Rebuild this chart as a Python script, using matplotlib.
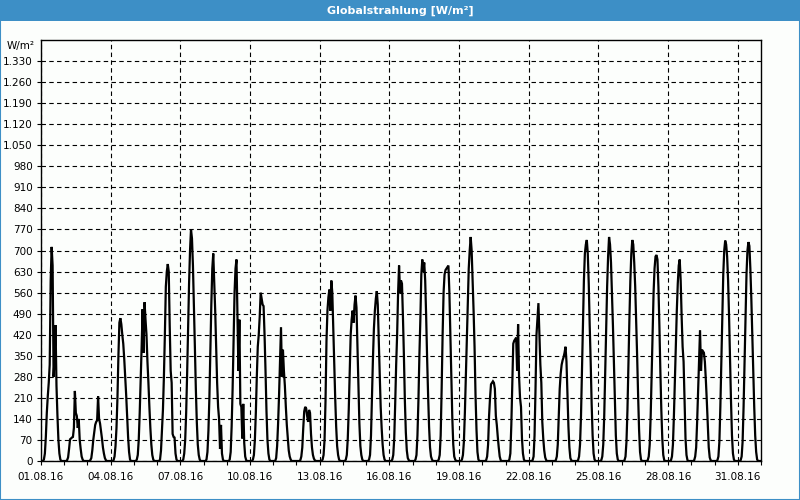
import numpy as np
import matplotlib
matplotlib.use("Agg")
import matplotlib.pyplot as plt
from matplotlib.patches import Rectangle

# hourly global radiation [W/m2], hours 03..20 UTC of each day (0 outside)
hours = list(range(3, 21))

d01 = [5, 25, 80, 160, 215, 260, 320, 600, 712, 650, 280, 340, 452, 250, 150, 70, 25, 5]
d02 = [3, 12, 40, 72, 75, 78, 80, 110, 233, 160, 150, 110, 140, 70, 40, 15, 5, 0]
d03 = [3, 10, 35, 70, 95, 120, 130, 135, 215, 140, 125, 100, 75, 45, 25, 10, 3, 0]
d04 = [3, 15, 50, 110, 210, 350, 460, 475, 455, 420, 390, 340, 280, 220, 150, 80, 30, 5]
d05 = [5, 20, 70, 160, 270, 380, 505, 360, 528, 470, 420, 330, 260, 180, 110, 55, 20, 5]
d06 = [5, 35, 100, 170, 280, 420, 580, 630, 655, 630, 450, 300, 260, 90, 80, 78, 25, 5]
d07 = [5, 25, 70, 160, 290, 440, 590, 700, 770, 740, 650, 520, 380, 240, 130, 55, 20, 5]
d08 = [5, 30, 100, 210, 360, 520, 640, 690, 600, 500, 380, 260, 180, 140, 40, 120, 25, 5]
d09 = [5, 30, 115, 240, 400, 560, 640, 670, 480, 300, 470, 190, 180, 75, 190, 60, 15, 3]
d10 = [5, 20, 70, 160, 280, 380, 420, 480, 560, 540, 520, 515, 420, 300, 165, 70, 25, 5]
d11 = [10, 50, 125, 220, 330, 445, 280, 370, 300, 250, 180, 120, 75, 35, 15, 5, 0, 0]
d12 = [0, 3, 15, 45, 110, 165, 180, 175, 150, 130, 170, 160, 90, 45, 20, 8, 2, 0]
d13 = [5, 20, 70, 200, 400, 500, 545, 570, 500, 600, 560, 440, 330, 210, 115, 50, 20, 5]
d14 = [5, 20, 75, 170, 300, 420, 470, 500, 460, 520, 550, 510, 380, 250, 125, 50, 20, 5]
d15 = [5, 20, 85, 220, 340, 440, 500, 540, 565, 520, 400, 290, 180, 110, 55, 20, 5, 0]
d16 = [5, 20, 75, 190, 320, 420, 560, 650, 560, 600, 590, 480, 350, 200, 95, 35, 10, 3]
d17 = [5, 20, 85, 200, 350, 470, 620, 670, 630, 660, 600, 480, 340, 220, 115, 45, 15, 5]
d18 = [5, 20, 85, 240, 420, 560, 620, 635, 640, 645, 650, 560, 420, 280, 145, 55, 15, 5]
d19 = [5, 20, 65, 160, 280, 400, 510, 640, 700, 745, 700, 600, 500, 380, 220, 105, 30, 5]
d20 = [0, 3, 15, 55, 150, 210, 255, 260, 265, 260, 240, 150, 120, 80, 45, 15, 3, 0]
d21 = [0, 5, 25, 120, 260, 390, 400, 405, 410, 300, 455, 280, 210, 180, 75, 25, 5, 0]
d22 = [0, 3, 15, 85, 240, 420, 470, 525, 420, 320, 260, 130, 75, 35, 12, 3, 0, 0]
d23 = [0, 3, 15, 55, 150, 240, 290, 320, 335, 345, 360, 380, 330, 220, 115, 45, 10, 2]
d24 = [3, 15, 55, 150, 300, 450, 600, 690, 720, 735, 690, 590, 450, 330, 190, 85, 25, 5]
d25 = [3, 15, 55, 150, 290, 440, 580, 680, 745, 720, 660, 560, 450, 330, 200, 85, 25, 5]
d26 = [3, 15, 65, 170, 320, 470, 600, 690, 735, 720, 660, 580, 470, 350, 220, 105, 30, 5]
d27 = [3, 15, 55, 150, 290, 440, 560, 640, 680, 685, 670, 580, 450, 300, 170, 75, 20, 3]
d28 = [3, 15, 55, 150, 270, 400, 500, 590, 650, 670, 600, 480, 380, 330, 200, 75, 20, 3]
d29 = [3, 15, 45, 130, 230, 320, 435, 300, 370, 365, 360, 330, 270, 200, 120, 45, 12, 2]
d30 = [3, 15, 65, 180, 330, 480, 620, 700, 733, 720, 680, 600, 480, 340, 200, 85, 25, 5]
d31 = [3, 15, 65, 180, 330, 480, 620, 700, 728, 715, 640, 540, 420, 300, 180, 85, 30, 5]

days = [d01, d02, d03, d04, d05, d06, d07, d08, d09, d10, d11, d12, d13, d14, d15, d16,
        d17, d18, d19, d20, d21, d22, d23, d24, d25, d26, d27, d28, d29, d30, d31]

date_labels = ["01.08.16", "04.08.16", "07.08.16", "10.08.16", "13.08.16", "16.08.16",
               "19.08.16", "22.08.16", "25.08.16", "28.08.16", "31.08.16"]
y_ticks = list(range(0, 1331, 70))

# build hourly series over the month
n_days = len(days)
t = np.arange(n_days * 24 + 1) / 24.0
vals = np.zeros(len(t))
for d, prof in enumerate(days):
    for h, v in zip(hours, prof):
        vals[d * 24 + h] = v

BLUE = "#3d8fc6"
BG = "#fcfefc"

fig = plt.figure(figsize=(8, 5), dpi=100, facecolor=BG)
ax = fig.add_axes([41 / 800, 39 / 500, 720 / 800, 421 / 500])
ax.set_facecolor(BG)

ax.plot(t, vals, color="black", lw=1.6, solid_joinstyle="miter")

ax.set_xlim(0, 31)
ax.set_ylim(0, 1400)
ax.set_xticks(np.arange(0, 31, 3))
ax.set_xticklabels(date_labels)
ax.set_xticks(np.arange(0, 32, 1), minor=True)
ax.set_yticks(y_ticks)
ax.set_yticklabels(["{:,}".format(v).replace(",", ".") for v in y_ticks])

ax.grid(True, which="major", color="black", linestyle=(0, (4, 3)), linewidth=0.8)
ax.tick_params(axis="both", which="both", direction="out", length=3, width=0.8,
               labelsize=7.5, colors="black", pad=3)
ax.tick_params(axis="x", which="major", pad=5)
for sp in ax.spines.values():
    sp.set_linewidth(1.0)
    sp.set_color("black")

fig.text(21 / 800, 1 - 46 / 500, "W/m²", ha="center", va="center", fontsize=7.5)

# title bar and frame
fig.patches.append(Rectangle((0, 1 - 21 / 500), 1, 21 / 500, transform=fig.transFigure,
                             facecolor=BLUE, edgecolor="none"))
fig.patches.append(Rectangle((0.0006, 0.001), 0.9988, 0.998, transform=fig.transFigure,
                             facecolor="none", edgecolor=BLUE, lw=1.5))
fig.text(0.5, 1 - 10.5 / 500, "Globalstrahlung [W/m²]", ha="center", va="center",
         color="white", fontsize=8, fontweight="bold")

fig.savefig("out.png", dpi=100, facecolor=BG)
